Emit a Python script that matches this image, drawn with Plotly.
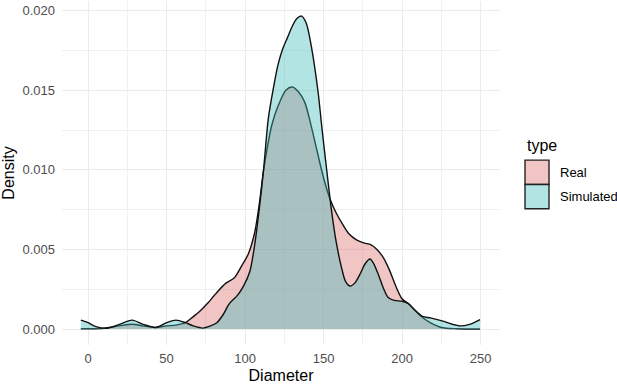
import plotly.graph_objects as go

# ---- data ----
real_x = [-4.6, 0, 10, 20, 28, 35, 43, 50, 56, 62, 66, 71, 76, 82, 88, 93, 98, 102,
          106, 109, 111.7, 114, 117, 121, 126, 130.2, 134, 138, 142.5, 145.6, 150, 154,
          158, 162, 166, 171, 176, 180, 184, 188, 192, 196, 200, 204, 208, 212, 218,
          225, 235, 249.7]
real_y = [0.00002, 0.00002, 0.00005, 0.0002, 0.0003, 0.0002, 0.0001, 0.0002, 0.00025,
          0.0004, 0.0007, 0.0011, 0.0016, 0.0023, 0.0029, 0.0032, 0.0040, 0.0047,
          0.0060, 0.0078, 0.0099, 0.0113, 0.0128, 0.0140, 0.0150, 0.0152, 0.0149,
          0.01425, 0.0126, 0.0113, 0.0095, 0.0082, 0.0073, 0.0066, 0.0060, 0.0056,
          0.0054, 0.0053, 0.0050, 0.0045, 0.0037, 0.0027, 0.0019, 0.0016, 0.0012,
          0.0008, 0.0004, 0.0001, 0.00002, 0.0]

sim_x = [-4.6, 0, 5, 12, 20, 28, 35, 43, 50, 56, 62, 67, 73, 78, 82, 86, 90, 95, 99,
         103, 106, 109, 111.7, 114.8, 118, 121, 124, 127, 130, 133, 136, 139, 142.5,
         146.5, 149, 152, 155, 158, 161.6, 164, 167, 170, 173, 176.5, 179.6, 182, 185,
         188, 191, 195, 200, 204, 208, 213, 218, 226, 232, 237, 243, 249.7]
sim_y = [0.00056, 0.0004, 0.00015, 0.00005, 0.0003, 0.00056, 0.0003, 0.0001, 0.0004,
         0.00056, 0.0004, 0.0002, 0.00006, 0.0002, 0.0004, 0.0009, 0.0016, 0.0021,
         0.0027, 0.0036, 0.0052, 0.0075, 0.0099, 0.0132, 0.0151, 0.0166, 0.0176,
         0.0183, 0.0190, 0.0195, 0.01965, 0.0192, 0.0176, 0.0149, 0.0126, 0.0100,
         0.0075, 0.0055, 0.0038, 0.0030, 0.0027, 0.0029, 0.0034, 0.0041, 0.0044,
         0.0041, 0.0034, 0.0026, 0.0020, 0.0018, 0.00175, 0.0016, 0.0012, 0.0008,
         0.0007, 0.0005, 0.0003, 0.0002, 0.0003, 0.0006]

types = ["Real", "Simulated"]
x_ticks = [0, 50, 100, 150, 200, 250]
y_ticks = [0.000, 0.005, 0.010, 0.015, 0.020]

ALPHA = 0.4
fills = {"Real": f"rgba(218,110,108,{ALPHA})", "Simulated": f"rgba(62,188,188,{ALPHA})"}
key_fill = {"Real": "rgb(240,197,196)", "Simulated": "rgb(178,228,228)"}
FONT = "Liberation Sans, Arial, sans-serif"

fig = go.Figure()
for name, xs, ys in [("Real", real_x, real_y), ("Simulated", sim_x, sim_y)]:
    fig.add_trace(go.Scatter(
        x=xs, y=ys, name=name, mode="lines", fill="tozeroy",
        fillcolor=fills[name], line=dict(color="#111111", width=1.4, shape="spline", smoothing=0.8),
        showlegend=False, hoverinfo="skip"))

fig.update_layout(
    width=617, height=384,
    margin=dict(l=62, r=117, t=1, b=37),
    paper_bgcolor="white", plot_bgcolor="white",
    font=dict(family=FONT, size=13, color="#4D4D4D"),
    xaxis=dict(range=[-16.6, 262.4], tickvals=x_ticks, ticktext=[str(v) for v in x_ticks],
               showgrid=True, gridcolor="#EBEBEB", gridwidth=1, zeroline=False,
               showline=False, ticks="", ticklabelstandoff=4,
               minor=dict(dtick=25, tick0=0, showgrid=True, gridcolor="#F0F0F0", gridwidth=0.6),
               title=dict(text="Diameter", font=dict(size=16, color="black"), standoff=6)),
    yaxis=dict(range=[-0.001, 0.0206], tickvals=y_ticks, ticktext=[f"{v:.3f}" for v in y_ticks],
               showgrid=True, gridcolor="#EBEBEB", gridwidth=1, zeroline=False,
               showline=False, ticks="", ticklabelstandoff=6,
               minor=dict(dtick=0.0025, tick0=0, showgrid=True, gridcolor="#F0F0F0", gridwidth=0.6),
               title=dict(text="Density", font=dict(size=16, color="black"), standoff=4)),
)

# legend (manual, ggplot style)
fig.add_annotation(xref="paper", yref="paper", x=(525 - 62) / 438, y=(347 - 146.5) / 346,
                   text="type", showarrow=False, xanchor="left", yanchor="middle",
                   font=dict(size=16, color="black", family=FONT))
key_tops = [161, 185.5]
for name, top in zip(types, key_tops):
    x0 = (525 - 62) / 438
    x1 = (549 - 62) / 438
    y1 = (347 - top) / 346
    y0 = (347 - (top + 24.5)) / 346
    fig.add_shape(type="rect", xref="paper", yref="paper", x0=x0, x1=x1, y0=y0, y1=y1,
                  fillcolor=key_fill[name], line=dict(color="#222222", width=1.4))
    fig.add_annotation(xref="paper", yref="paper", x=(558 - 62) / 438, y=(y0 + y1) / 2,
                       text=name, showarrow=False, xanchor="left", yanchor="middle",
                       font=dict(size=13, color="black", family=FONT))

fig.write_html("out.html")
